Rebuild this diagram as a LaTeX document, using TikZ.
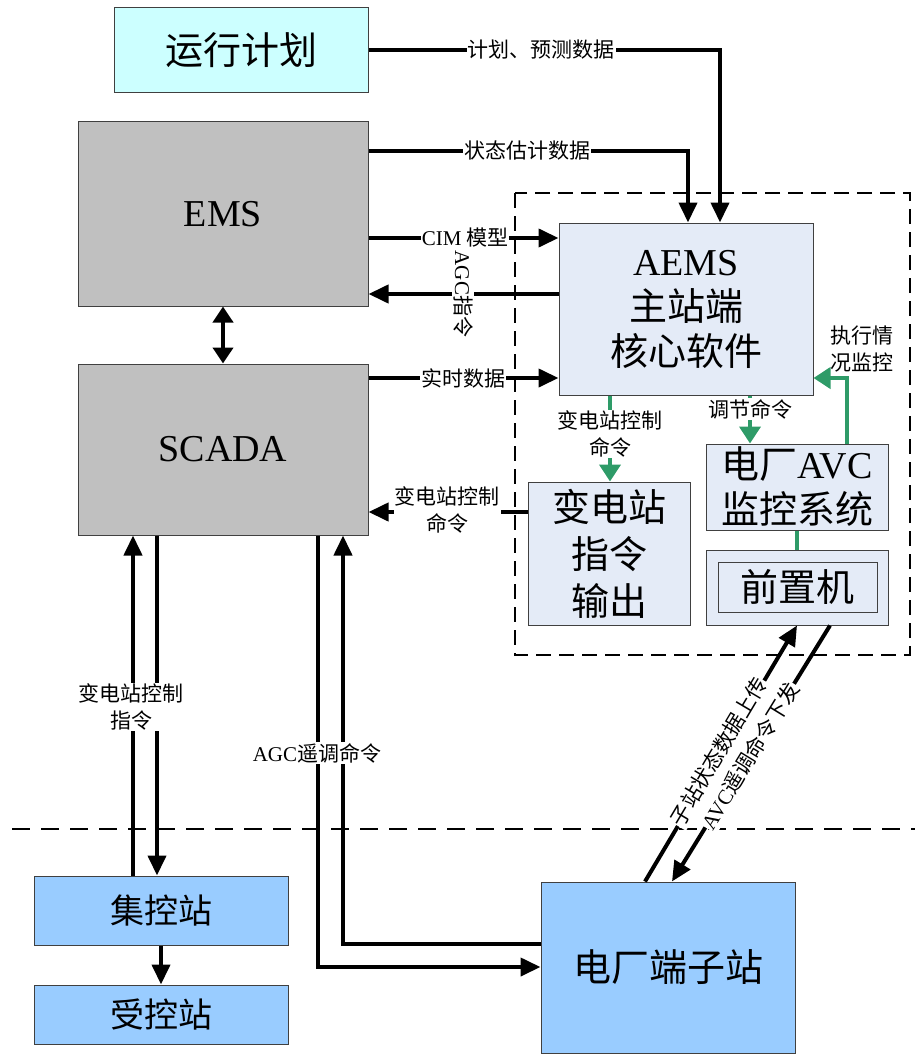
\documentclass[tikz,border=0pt]{standalone}
\usepackage{fontspec}
\setmainfont{Liberation Serif}
\newfontfamily\cjk{Noto Sans CJK SC}
\usetikzlibrary{arrows.meta}
\definecolor{planfill}{HTML}{CCFFFF}
\definecolor{grayfill}{HTML}{C0C0C0}
\definecolor{aemsfill}{HTML}{E4EBF7}
\definecolor{bluefill}{HTML}{99CCFF}
\definecolor{gline}{HTML}{2E9B68}
\definecolor{bord}{HTML}{404040}
\newcommand\lat[1]{{\rmfamily #1}}
\begin{document}
\begin{tikzpicture}[x=1pt,y=-1pt,
 box/.style={draw=bord,line width=1pt,inner sep=0pt,align=center},
 big/.style={font=\cjk\fontsize{38}{45}\selectfont},
 lbl/.style={font=\cjk\fontsize{21}{27}\selectfont,fill=white,inner sep=1pt,align=center},
 nlbl/.style={font=\cjk\fontsize{21}{27}\selectfont,inner sep=1pt,align=center},
 dlbl/.style={lbl,text height=15pt,text depth=4pt,inner sep=0.5pt},
 arr/.style={line width=4pt,-{Triangle[length=20pt,width=18pt]}},
 darr/.style={line width=4pt,{Triangle[length=16pt,width=20pt]}-{Triangle[length=16pt,width=20pt]}},
 ln/.style={line width=4pt},
 garr/.style={draw=gline,line width=4pt,-{Triangle[length=17pt,width=21pt]}},
 gln/.style={draw=gline,line width=4pt},
 dsh/.style={line width=2.5pt,dash pattern=on 15pt off 8pt}
]
\useasboundingbox (0,0) rectangle (915,1054);

% dashed region and separator
\draw[dsh] (515,193) rectangle (910,655);
\draw[line width=2.5pt,dash pattern=on 18pt off 11pt] (12,829) -- (915,829);

% boxes
\node[box,big,fill=planfill,minimum width=254,minimum height=85] (plan) at (241,50.5) {运行计划};
\node[box,big,fill=grayfill,minimum width=290,minimum height=184] (ems) at (223,214) {\lat{EMS}};
\node[box,big,fill=grayfill,minimum width=290,minimum height=171] (scada) at (223,449.5) {\lat{SCADA}};
\node[box,big,fill=aemsfill,minimum width=254,minimum height=172] (aems) at (686,309) {\lat{AEMS}\\主站端\\核心软件};
\node[box,fill=aemsfill,minimum width=162,minimum height=143,font=\cjk\fontsize{38}{47}\selectfont] (bdz) at (609,553.5) {变电站\\指令\\输出};
\node[box,big,fill=aemsfill,minimum width=182,minimum height=86] (avc) at (797,487) {电厂\lat{AVC}\\监控系统};
\node[box,fill=aemsfill,minimum width=182,minimum height=75] (qzjo) at (797,587.5) {};
\node[box,big,fill=aemsfill,minimum width=159,minimum height=50] (qzji) at (797.5,587) {前置机};
\node[box,fill=bluefill,minimum width=254,minimum height=69,font=\cjk\fontsize{34}{40}\selectfont] (jkz) at (161,910.5) {集控站};
\node[box,fill=bluefill,minimum width=254,minimum height=59,font=\cjk\fontsize{34}{40}\selectfont] (skz) at (161,1014.5) {受控站};
\node[box,big,fill=bluefill,minimum width=254,minimum height=171] (dc) at (668,967.5) {电厂端子站};

% black connectors
\draw[arr] (plan.east) -| (720,0 |- aems.north);
\draw[arr] (ems.east |- 0,151) -| (688,0 |- aems.north);
\draw[arr] (ems.east |- 0,238) -- (aems.west |- 0,238);
\draw[arr] (aems.west |- 0,294) -- (ems.east |- 0,294);
\draw[arr] (scada.east |- 0,378) -- (aems.west |- 0,378);
\draw[darr] (ems.south) -- (scada.north);
\draw[arr] (bdz.west |- 0,512) -- (scada.east |- 0,512);
\draw[arr] (jkz.north -| 133,0) -- (scada.south -| 133,0);
\draw[arr] (scada.south -| 157,0) -- (jkz.north -| 157,0);
\draw[arr] (scada.south -| 318,0) |- (dc.west |- 0,967);
\draw[arr] (dc.west |- 0,944) -| (scada.south -| 343,0);
\draw[arr] (jkz.south) -- (skz.north);
\draw[arr] (dc.north -| 645,0) -- (qzjo.south -| 797,0);
\draw[arr] (qzjo.south -| 830,0) -- (dc.north -| 672,0);

% green connectors
\draw[garr] (aems.south -| 610,0) -- (bdz.north -| 610,0);
\draw[garr] (aems.south -| 750,0) -- (avc.north -| 750,0);
\draw[garr] (avc.north -| 847,0) |- (aems.east |- 0,378);
\draw[gln] (avc.south) -- (qzjo.north);

% labels
\node[lbl] (l1) at (541,50) {计划、预测数据};
\node[lbl] (l2) at (527,151) {状态估计数据};
\node[lbl] (l3) at (465,238) {\lat{CIM} 模型};
\node[lbl,rotate=-90] (l4) at (463,294) {\lat{AGC}指令};
\node[lbl] (l5) at (463,378) {实时数据};
\node[lbl] (l6) at (447,510) {变电站控制\\命令};
\node[lbl] (l7) at (610,434) {变电站控制\\命令};
\node[lbl] (l8) at (750,409) {调节命令};
\node[nlbl] (l9) at (862,349) {执行情\\况监控};
\node[lbl] (l10) at (131,707) {变电站控制\\指令};
\node[lbl] (l11) at (317,753) {\lat{AGC}遥调命令};
\node[dlbl,rotate=59.3] (l12) at (720.5,753) {子站状态数据上传};
\node[dlbl,rotate=58.5] (l13) at (752,757) {\lat{AVC}遥调命令下发};
\end{tikzpicture}
\end{document}
